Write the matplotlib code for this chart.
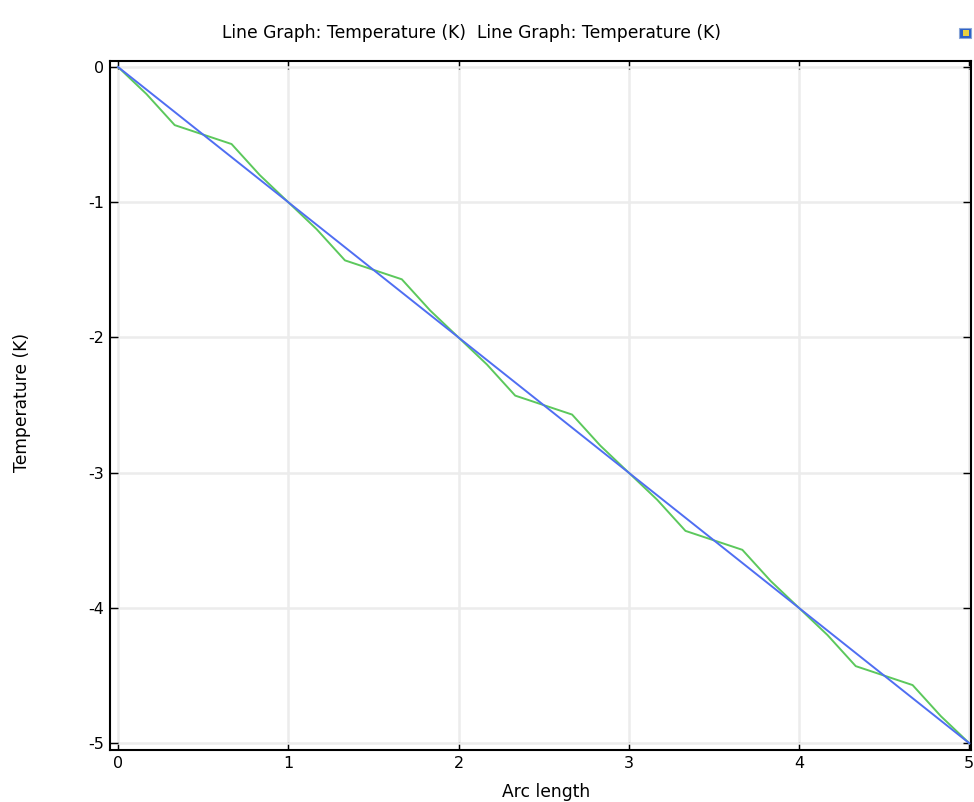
import matplotlib
matplotlib.use("Agg")
import matplotlib.pyplot as plt
from matplotlib.ticker import FuncFormatter
from matplotlib.patches import Rectangle

plt.rcParams['font.family'] = ['DejaVu Sans']

# Data
arc_exact = [0, 5]
temp_exact = [0, -5]

arc_fem = [0, 0.167, 0.333, 0.5, 0.667, 0.833,
           1, 1.167, 1.333, 1.5, 1.667, 1.833,
           2, 2.167, 2.333, 2.5, 2.667, 2.833,
           3, 3.167, 3.333, 3.5, 3.667, 3.833,
           4, 4.167, 4.333, 4.5, 4.667, 4.833, 5]
temp_fem = [0, -0.2, -0.43, -0.5, -0.57, -0.8,
            -1, -1.2, -1.43, -1.5, -1.57, -1.8,
            -2, -2.2, -2.43, -2.5, -2.57, -2.8,
            -3, -3.2, -3.43, -3.5, -3.57, -3.8,
            -4, -4.2, -4.43, -4.5, -4.57, -4.8, -5]

x_ticks = [0, 1, 2, 3, 4, 5]
y_ticks = [0, -1, -2, -3, -4, -5]

title_text = "Line Graph: Temperature (K)  Line Graph: Temperature (K)"
x_label = "Arc length"
y_label = "Temperature (K)"

fig = plt.figure(figsize=(9.74, 8.02), dpi=100)
ax = fig.add_axes([110/974, (802-750)/802, 861/974, 689/802])

ax.plot(arc_exact, temp_exact, color="#4f6ef2", lw=1.4, zorder=3)
ax.plot(arc_fem, temp_fem, color="#5cc85c", lw=1.4, zorder=2)

ax.set_xlim(-0.047, 5.01)
ax.set_ylim(-5.05, 0.044)
ax.set_xticks(x_ticks)
ax.set_yticks(y_ticks)
fmt = FuncFormatter(lambda v, p: ("%g" % v).replace("\u2212", "-"))
ax.xaxis.set_major_formatter(fmt)
ax.yaxis.set_major_formatter(fmt)
ax.grid(True, color="#ececec", lw=1.8)
ax.set_axisbelow(True)
ax.tick_params(direction="in", length=6, width=1, top=True, right=True,
               labelsize=11.5, pad=4)
for s in ax.spines.values():
    s.set_linewidth(1.5)
    s.set_color("black")

fig.text(472/974, 1 - 33/802, title_text, ha="center", va="center", fontsize=12.3)
fig.text(546/974, 1 - 792/802, x_label, ha="center", va="center", fontsize=12.3)
fig.text(22/974, 1 - 402/802, y_label, ha="center", va="center", rotation=90, fontsize=12.3)

# small window icon at top right
fig.patches.append(Rectangle((959/974, 1 - 38/802), 12/974, 10/802,
                             transform=fig.transFigure, facecolor="#2a5fc8",
                             edgecolor="#8aa6d8", lw=0.8))
fig.patches.append(Rectangle((963/974, 1 - 36/802), 6/974, 6/802,
                             transform=fig.transFigure, facecolor="#e8d040",
                             edgecolor="none"))

fig.savefig("out.png", dpi=100)
